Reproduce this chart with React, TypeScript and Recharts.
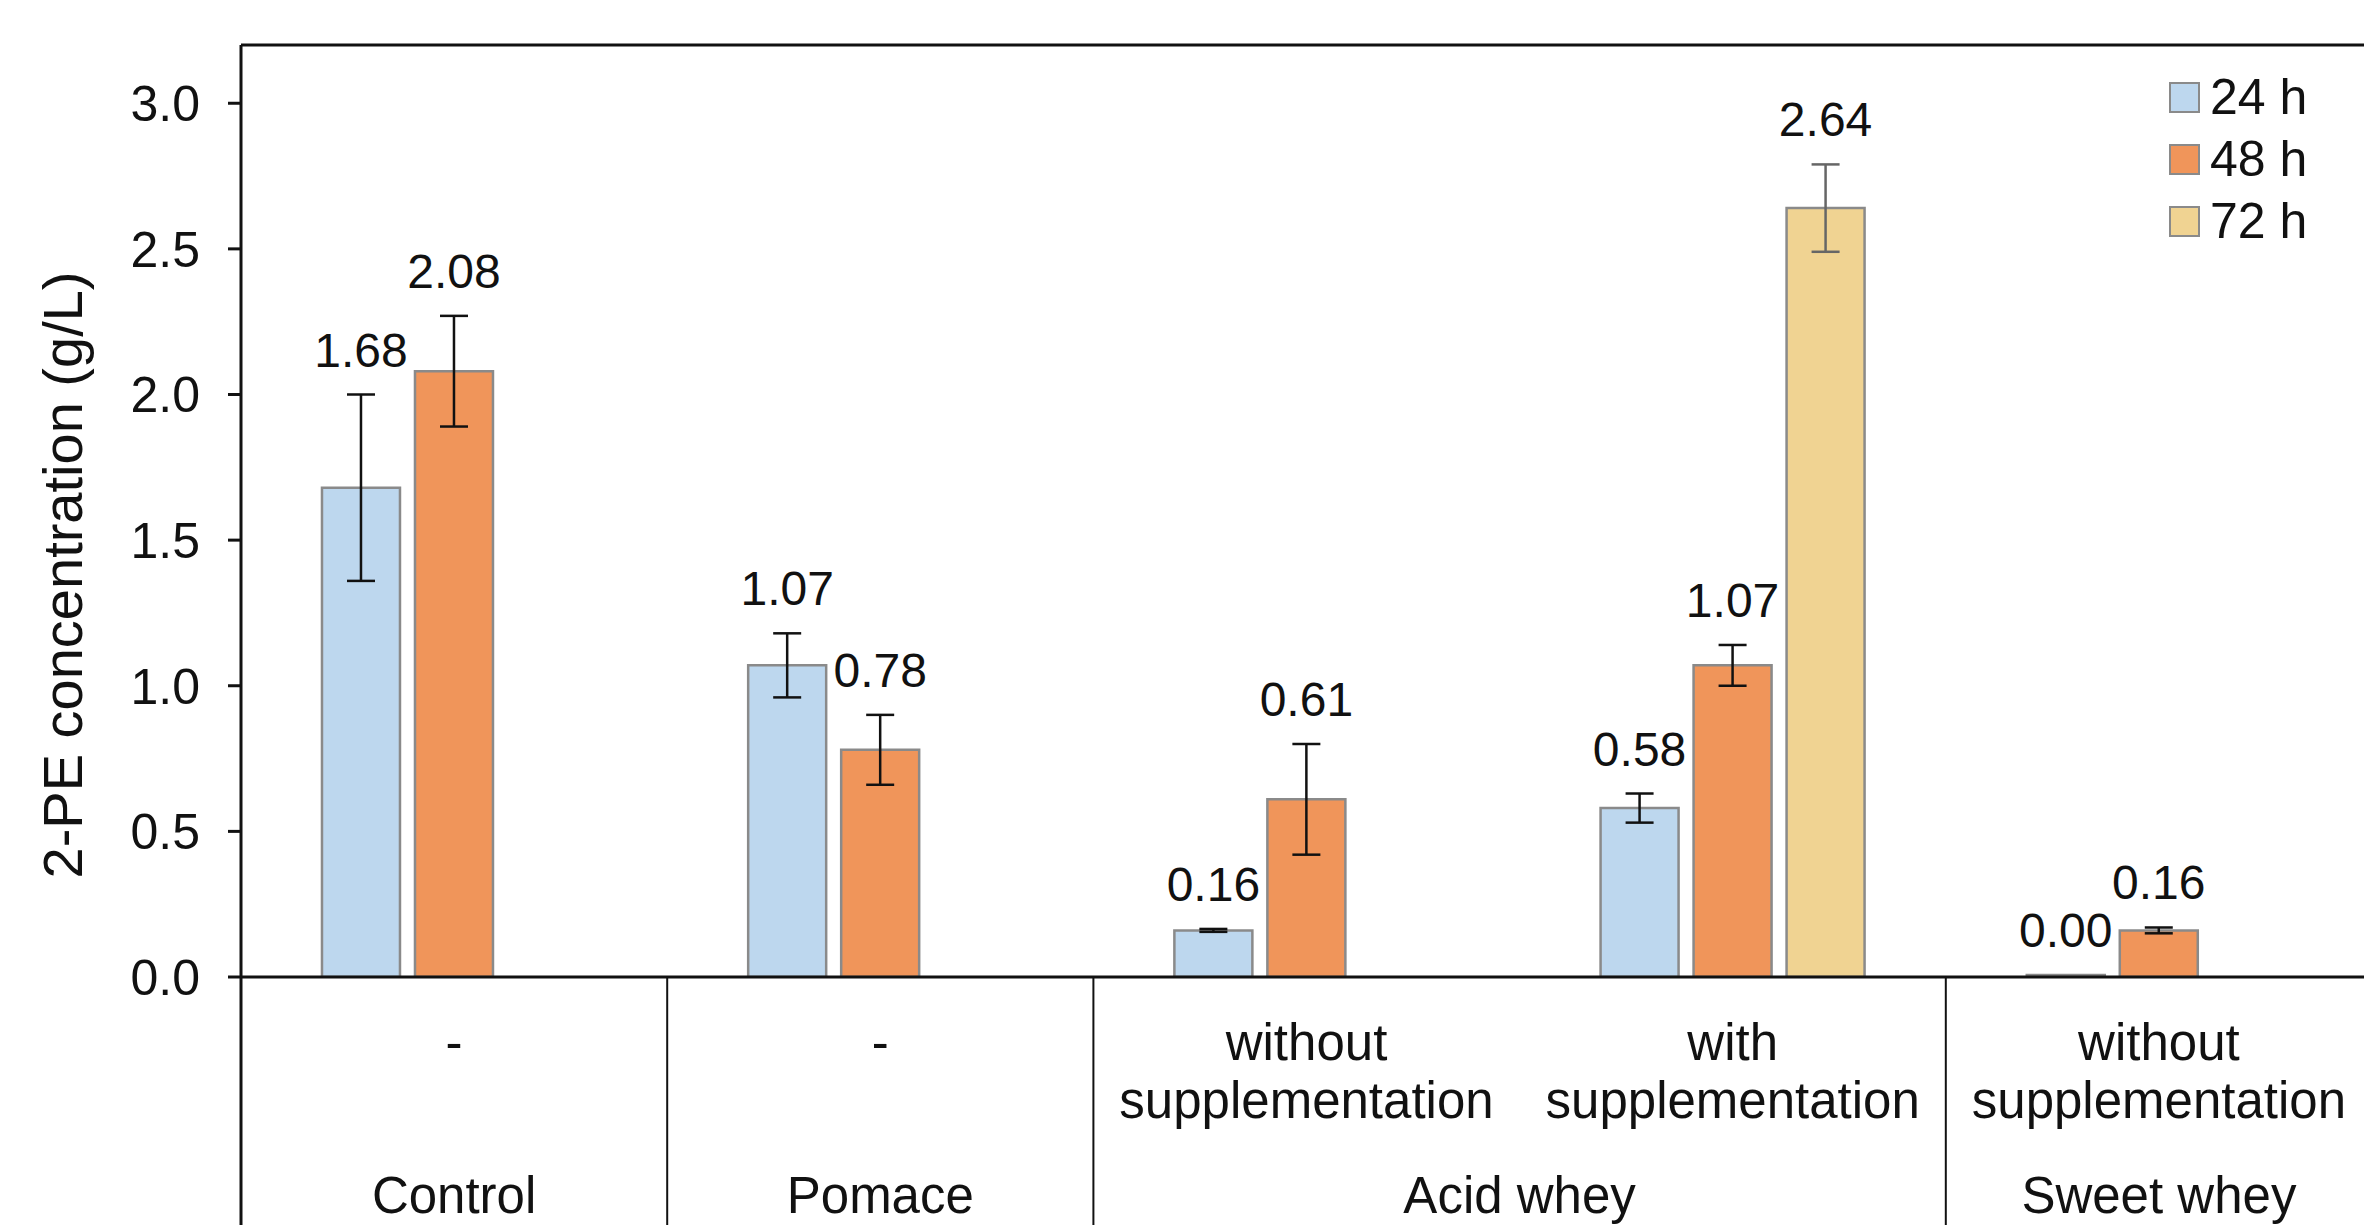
import { BarChart, Bar, XAxis, YAxis, ErrorBar, LabelList, ReferenceLine } from 'recharts';

// 2-PE concentration per medium and supplementation, sampled at 24/48/72 h
const media = ['Control', 'Pomace', 'Acid whey', 'Acid whey', 'Sweet whey'];
const treatments = ['-', '-', 'without supplementation', 'with supplementation', 'without supplementation'];
const mean24h = [1.68, 1.07, 0.16, 0.58, 0.0];
const mean48h = [2.08, 0.78, 0.61, 1.07, 0.16];
const mean72h = [null, null, null, 2.64, null];
const sd24h = [0.32, 0.11, 0.005, 0.05, 0];
const sd48h = [0.19, 0.12, 0.19, 0.07, 0.01];
const sd72h = [null, null, null, 0.15, null];
const yTicks = [0, 0.5, 1.0, 1.5, 2.0, 2.5, 3.0];

const data = media.map((m, i) => ({
  key: `${m}-${i}`,
  h24: mean24h[i],
  h48: mean48h[i],
  h72: mean72h[i],
  e24: sd24h[i],
  e48: sd48h[i],
  e72: sd72h[i],
}));

const series = [
  { key: 'h24', err: 'e24', name: '24 h', fill: '#BDD7EE', errColor: '#111', sd: sd24h },
  { key: 'h48', err: 'e48', name: '48 h', fill: '#F0955A', errColor: '#111', sd: sd48h },
  { key: 'h72', err: 'e72', name: '72 h', fill: '#F0D392', errColor: '#666', sd: sd72h },
];

const FONT = '"Liberation Sans", Arial, sans-serif';
const VIEW_W = 2364;
const W = 2372; // last group runs slightly past the visible edge
const H = 1225;
const TOP = 45;
const LEFT = 241;
const X_AXIS_H = 248;
const Y_MAX = 3.2;
const AXIS_Y = H - X_AXIS_H;
const PX_PER_UNIT = (AXIS_Y - TOP) / Y_MAX;
const BAND = (W - LEFT) / media.length;

// value label sits just above the error bar cap
const makeValueLabel = (sd: (number | null)[]) => (props: any) => {
  const { x, y, width, value } = props;
  if (value == null) return null;
  const cx = Number(x) + Number(width) / 2;
  const idx = Math.floor((cx - LEFT) / BAND);
  const err = sd[idx] ?? 0;
  const ty = Number(y) - err * PX_PER_UNIT - 28;
  return (
    <text x={cx} y={ty} textAnchor="middle" fontSize={48} fontFamily={FONT} fill="#111">
      {Number(value).toFixed(2)}
    </text>
  );
};

const CategoryTick = (props: any) => {
  const { x, index } = props;
  const group = media[index];
  const first = index === 0 || media[index - 1] !== group;
  let span = 1;
  while (first && media[index + span] === group) span++;
  const lines = treatments[index] === '-' ? ['-'] : treatments[index].split(' ');
  return (
    <g fontFamily={FONT} fontSize={51} fill="#111">
      {lines.map((t, k) => (
        <text key={k} x={x} y={AXIS_Y + 83 + k * 58} textAnchor="middle">
          {t}
        </text>
      ))}
      {first && (
        <>
          <line x1={x - BAND / 2} x2={x - BAND / 2} y1={AXIS_Y} y2={H} stroke="#111" strokeWidth={index === 0 ? 3 : 2} />
          <text x={x + ((span - 1) * BAND) / 2} y={AXIS_Y + 236} textAnchor="middle">
            {group}
          </text>
        </>
      )}
    </g>
  );
};

const SeriesLegend = () => (
  <div style={{ position: 'absolute', left: 2169, top: 66, fontFamily: FONT, fontSize: 50, color: '#111' }}>
    {series.map((s) => (
      <div key={s.key} style={{ display: 'flex', alignItems: 'center', height: 62 }}>
        <span
          style={{
            width: 27,
            height: 27,
            background: s.fill,
            border: '2px solid #8a8a8a',
            marginRight: 10,
            display: 'inline-block',
          }}
        />
        {s.name}
      </div>
    ))}
  </div>
);

export default function App() {
  return (
    <div style={{ position: 'absolute', left: 0, top: 0, width: VIEW_W, height: H, background: '#fff', overflow: 'hidden' }}>
      <BarChart
        width={W}
        height={H}
        data={data}
        margin={{ top: TOP, right: 0, bottom: 0, left: 0 }}
        barCategoryGap="19%"
        barGap={15}
      >
        <ReferenceLine y={Y_MAX} stroke="#111" strokeWidth={3} />
        <XAxis
          dataKey="key"
          height={X_AXIS_H}
          interval={0}
          tickLine={false}
          axisLine={{ stroke: '#111', strokeWidth: 3 }}
          tick={<CategoryTick />}
        />
        <YAxis
          width={LEFT}
          domain={[0, Y_MAX]}
          ticks={yTicks}
          allowDataOverflow
          tickFormatter={(v: number) => v.toFixed(1)}
          tickSize={13}
          tickMargin={28}
          tick={{ fontSize: 50, fontFamily: FONT, fill: '#111' }}
          tickLine={{ stroke: '#111', strokeWidth: 3 }}
          axisLine={{ stroke: '#111', strokeWidth: 3 }}
          label={{
            content: () => (
              <text
                x={62}
                y={575}
                transform="rotate(-90 62 575)"
                textAnchor="middle"
                dominantBaseline="central"
                fontSize={56}
                fontFamily={FONT}
                fill="#111"
              >
                2-PE concentration (g/L)
              </text>
            ),
          }}
        />
        {series.map((s) => (
          <Bar
            key={s.key}
            dataKey={s.key}
            name={s.name}
            fill={s.fill}
            stroke="#8a8a8a"
            strokeWidth={2.5}
            minPointSize={s.key === 'h24' ? 2 : 0}
            isAnimationActive={false}
          >
            <ErrorBar dataKey={s.err} width={14} stroke={s.errColor} strokeWidth={2.5} direction="y" />
            <LabelList dataKey={s.key} content={makeValueLabel(s.sd)} />
          </Bar>
        ))}
      </BarChart>
      <SeriesLegend />
    </div>
  );
}
